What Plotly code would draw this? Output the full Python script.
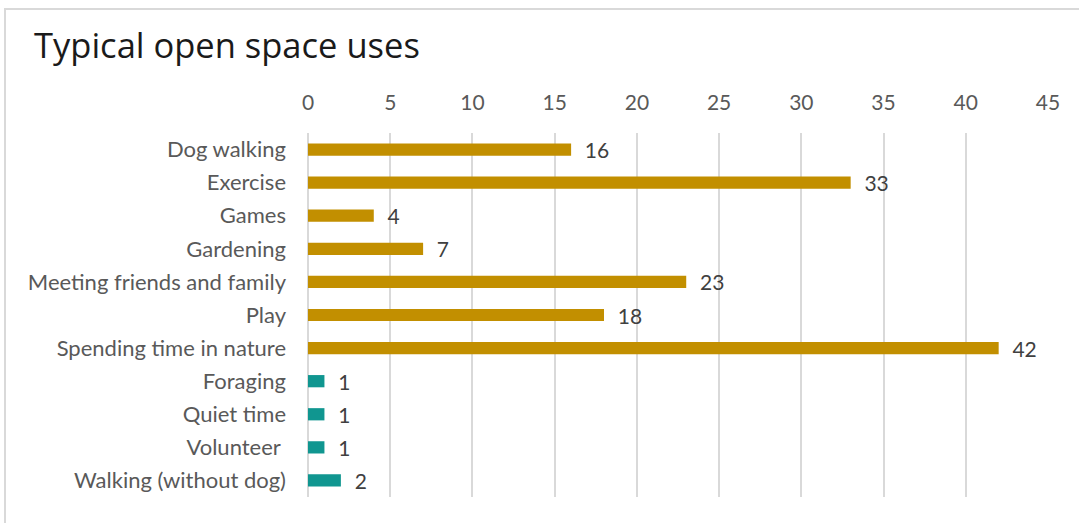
import plotly.graph_objects as go

# Categories and response counts
categories = [
    "Dog walking", "Exercise", "Games", "Gardening", "Meeting friends and family",
    "Play", "Spending time in nature", "Foraging", "Quiet time", "Volunteer ",
    "Walking (without dog)",
]
counts = [16, 33, 4, 7, 23, 18, 42, 1, 1, 1, 2]
groups = ["main"] * 7 + ["other"] * 4

palette = {"main": "#C28F00", "other": "#109690"}
bar_colors = [palette[g] for g in groups]

W, H = 1079, 523
L, R, T, B = 308, 31, 133, 26
pw, ph = W - L - R, H - T - B

label_font = "Lato, Liberation Sans, sans-serif"

fig = go.Figure(go.Bar(
    y=categories,
    x=counts,
    orientation="h",
    marker=dict(color=bar_colors, line=dict(width=0)),
    width=0.37,
    text=[f"  {v}" for v in counts],
    textposition="outside",
    constraintext="none",
    textfont=dict(family=label_font, size=21, color="#404040"),
    cliponaxis=False,
))

# light frame around the chart area
fig.add_shape(
    type="rect", xref="paper", yref="paper",
    x0=(5 - L) / pw, x1=(W + 20 - L) / pw,
    y0=(H - B - (H + 20)) / ph, y1=(H - B - 9) / ph,
    line=dict(color="#D9D9D9", width=2), fillcolor="rgba(0,0,0,0)", layer="below",
)

fig.update_layout(
    width=W, height=H,
    margin=dict(l=L, r=R, t=T, b=B),
    paper_bgcolor="white", plot_bgcolor="white",
    showlegend=False,
    title=dict(
        text="Typical open space uses",
        x=34 / W, xanchor="left", y=1 - 46 / H, yanchor="middle",
        font=dict(family="Open Sans, Lato, sans-serif", size=34.5, color="#1a1a1a"),
    ),
    xaxis=dict(
        side="top", range=[0, 45], dtick=5, tick0=0,
        showgrid=True, gridcolor="#D9D9D9", gridwidth=2,
        zeroline=True, zerolinecolor="#D9D9D9", zerolinewidth=2,
        showline=False, ticks="",
        tickfont=dict(family=label_font, size=21, color="#595959"),
        ticklabelstandoff=18,
    ),
    yaxis=dict(
        autorange="reversed", showgrid=False, zeroline=False, showline=False, ticks="",
        tickfont=dict(family=label_font, size=22, color="#595959"),
        ticklabelstandoff=21,
    ),
)

fig.write_html("out.html")
